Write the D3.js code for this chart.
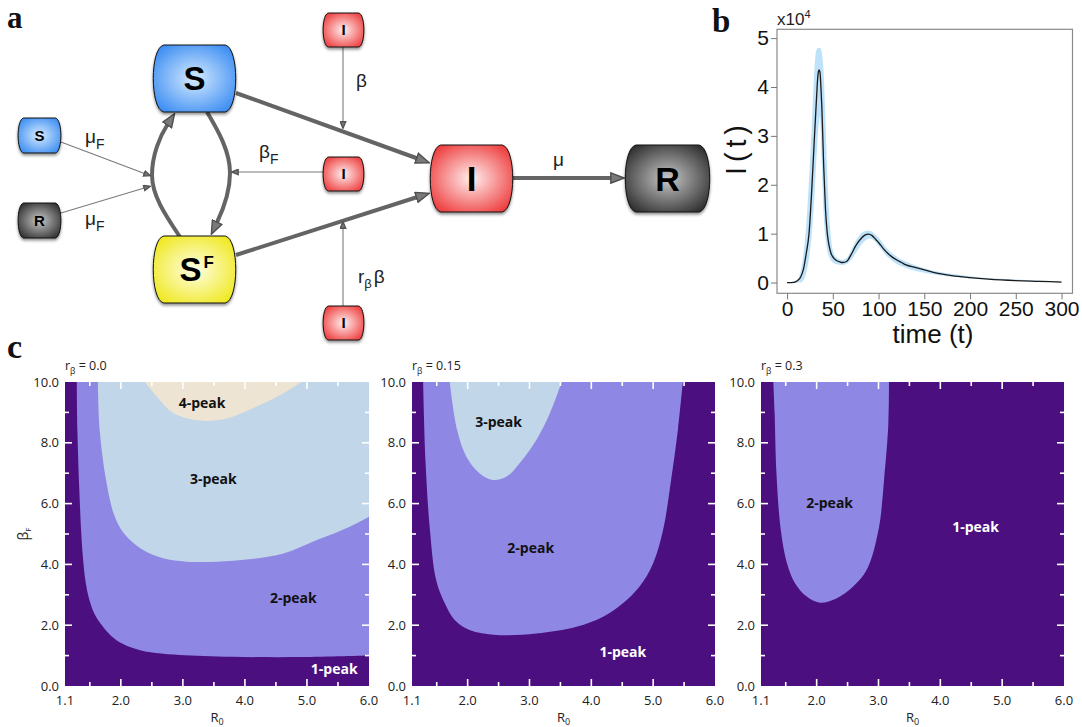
<!DOCTYPE html>
<html><head><meta charset="utf-8">
<script src="https://cdn.jsdelivr.net/npm/d3@7"></script>
<style>body{margin:0;background:#fff}svg{display:block}</style>
</head><body>
<svg id="fig" width="1082" height="727"></svg>
<script>
// ---------------- Panel b data (I(t) in units of 10^4) ----------------
const meanT = [0,5,10,12,15,18,21,24,27,30,32,33,34,35,36,37,38,40,42,44,46,48,51,54,58,61,65,70,75,80,85,89,93,97,100,105,110,115,120,125,130,140,150,160,170,180,200,220,250,275,300];
const meanI = [0,0,0.02,0.05,0.12,0.28,0.6,1.0,1.9,3.0,3.7,4.05,4.28,4.35,4.3,4.0,3.6,2.4,1.5,1.0,0.75,0.6,0.5,0.45,0.42,0.41,0.43,0.57,0.75,0.88,0.97,0.99,0.96,0.88,0.82,0.7,0.6,0.52,0.46,0.41,0.36,0.31,0.26,0.21,0.17,0.14,0.1,0.07,0.04,0.025,0.01];
const bandT     = [0,10,15,18,21,24,27,30,32,34,35,36,37,38,40,42,44,46,48,51,55,60,65,70,75,80,85,90,95,100,110,120,130,150,200,250,300];
const bandUpper = [0,0.04,0.25,0.6,1.2,2.1,3.2,4.4,4.75,4.8,4.8,4.8,4.78,4.7,4.3,3.3,2.2,1.4,0.9,0.6,0.5,0.46,0.5,0.66,0.85,0.99,1.05,1.06,1.01,0.92,0.68,0.53,0.43,0.29,0.13,0.06,0.02];
const bandLower = [0,0,0,0.05,0.2,0.5,1.0,1.8,2.5,3.1,3.3,3.4,3.0,2.4,1.4,0.9,0.65,0.52,0.45,0.4,0.37,0.36,0.38,0.46,0.6,0.74,0.85,0.9,0.86,0.75,0.52,0.38,0.3,0.2,0.09,0.04,0.005];
const bXTicks = [0,50,100,150,200,250,300];
const bYTicks = [0,1,2,3,4,5];

// ---------------- Panel c data: region boundaries [R0, betaF] ----------------
const rbLabels = ["0.0","0.15","0.3"];
const cXTicks = [1.1,2.0,3.0,4.0,5.0,6.0];
const cYTicks = [0,2,4,6,8,10];
// r_beta = 0.0
const p1_b12 = [[1.29,10],[1.30,8.4],[1.33,6.5],[1.36,5.1],[1.39,4.2],[1.43,3.45],[1.49,2.85],[1.58,2.35],[1.70,1.98],[1.85,1.64],[2.02,1.40],[2.31,1.18],[2.65,1.07],[2.95,1.02],[3.8,0.96],[4.9,0.95],[6.0,1.0]];
const p1_b23 = [[1.63,10],[1.66,8.4],[1.76,6.8],[1.88,5.7],[2.01,5.13],[2.15,4.8],[2.36,4.47],[2.68,4.2],[3.06,4.09],[3.81,4.12],[4.62,4.36],[5.16,4.8],[5.69,5.24],[6.0,5.57]];
const p1_b34 = [[2.39,10],[2.58,9.52],[2.85,8.97],[3.28,8.73],[3.71,8.8],[4.24,9.24],[4.62,9.63],[4.91,10]];
// r_beta = 0.15
const p2_b12 = [[1.28,10],[1.32,7.33],[1.39,5.13],[1.49,3.49],[1.63,2.72],[1.79,2.17],[2.03,1.84],[2.46,1.68],[3.11,1.73],[3.76,1.95],[4.19,2.28],[4.51,2.72],[4.78,3.27],[5.0,4.04],[5.16,5.13],[5.29,6.78],[5.40,8.42],[5.48,10]];
const p2_b23 = [[1.71,10],[1.83,8.42],[1.98,7.54],[2.19,7.0],[2.41,6.78],[2.63,6.89],[2.84,7.33],[3.11,8.09],[3.33,8.97],[3.52,10]];
// r_beta = 0.3
const p3_b12 = [[1.30,10],[1.32,9.0],[1.35,7.0],[1.42,5.13],[1.52,4.04],[1.65,3.38],[1.84,2.94],[2.05,2.74],[2.32,2.88],[2.59,3.27],[2.81,3.82],[3.0,5.13],[3.09,6.78],[3.16,8.64],[3.17,10]];
// region labels [text, R0, betaF]
const p1_labels = [["4-peak",3.31,9.32],["3-peak",3.49,6.81],["2-peak",4.78,2.9],["1-peak",5.44,0.56]];
const p2_labels = [["3-peak",2.50,8.69],["2-peak",3.02,4.54],["1-peak",4.51,1.13]];
const p3_labels = [["2-peak",2.21,6.03],["1-peak",4.57,5.24]];

const COL = {p1:"#4b0f80", p2:"#8f87e4", p3:"#c1d6e8", p4:"#ede4d3"};

const svg = d3.select("#fig");
svg.append("rect").attr("width",1082).attr("height",727).attr("fill","#fff");
const defs = svg.append("defs");
const SANS = "'Liberation Sans', Arial, sans-serif";
const OPEN = "'Open Sans', sans-serif";
const SERIF = "'Liberation Serif', 'DejaVu Serif', serif";

// panel letters
[["a",7,28,31],["b",712,32,33],["c",7,358,34]].forEach(([t,x,y,s])=>{
  svg.append("text").attr("x",x).attr("y",y).attr("font-family",SERIF).attr("font-weight","bold")
    .attr("font-size",s).attr("fill","#111").text(t);
});

// ================= Panel a: diagram =================
const sh = defs.append("filter").attr("id","shadow").attr("x","-20%").attr("y","-20%").attr("width","140%").attr("height","150%");
sh.append("feDropShadow").attr("dx",0).attr("dy",2).attr("stdDeviation",1.6).attr("flood-color","#000").attr("flood-opacity",0.45);
const grads = {blue:["#d6ebff","#3a8cf2"], red:["#fff0f0","#ee3a3a"], yellow:["#ffffe6","#efe81e"], gray:["#c8c8c8","#2e2e2e"]};
Object.entries(grads).forEach(([k,[c0,c1]])=>{
  const g = defs.append("radialGradient").attr("id","g_"+k).attr("cx","50%").attr("cy","50%").attr("r","62%");
  g.append("stop").attr("offset","0%").attr("stop-color",c0);
  g.append("stop").attr("offset","100%").attr("stop-color",c1);
});
function barrel(x0,y0,w,h){
  const x1=x0+w, y1=y0+h, r=w*0.13, k=h*0.04;
  return `M${x0+r},${y0} L${x1-r},${y0} C${x1+r*0.3},${y0+k} ${x1+r*0.3},${y1-k} ${x1-r},${y1} L${x0+r},${y1} C${x0-r*0.3},${y1-k} ${x0-r*0.3},${y0+k} ${x0+r},${y0} Z`;
}
const aG = svg.append("g");
// markers
function marker(id, len, wid, fill, stroke){
  const m = defs.append("marker").attr("id",id).attr("markerUnits","userSpaceOnUse")
    .attr("viewBox",`0 0 ${len} ${wid}`).attr("refX",1).attr("refY",wid/2)
    .attr("markerWidth",len).attr("markerHeight",wid).attr("orient","auto");
  m.append("path").attr("d",`M0.8,0.8 L${len-0.8},${wid/2} L0.8,${wid-0.8} Z`).attr("fill",fill).attr("stroke",stroke).attr("stroke-width",1.4).attr("stroke-linejoin","miter");
}
marker("mThick",15,12,"#7a7a7a","#4e4e4e");
marker("mThin",8,7,"#777","#555");
function arrowLine(x1,y1,x2,y2,thick){
  const len = thick?15:8;
  const dx=x2-x1, dy=y2-y1, L=Math.hypot(dx,dy);
  const bx=x2-dx/L*(len-1), by=y2-dy/L*(len-1);
  aG.append("line").attr("x1",x1).attr("y1",y1).attr("x2",bx).attr("y2",by)
    .attr("stroke",thick?"#646464":"#7a7a7a").attr("stroke-width",thick?4:1.1)
    .attr("marker-end",`url(#${thick?"mThick":"mThin"})`);
}
function arrowCurve(p0,c1,c2,mid,c3,c4,p3){
  const dx=p3[0]-c4[0], dy=p3[1]-c4[1], L=Math.hypot(dx,dy);
  const b=[p3[0]-dx/L*14, p3[1]-dy/L*14];
  aG.append("path").attr("d",`M${p0} C${c1} ${c2} ${mid} C${c3} ${c4} ${b}`).attr("fill","none")
    .attr("stroke","#646464").attr("stroke-width",4).attr("marker-end","url(#mThick)");
}
// thick arrows
arrowLine(236,93,430,163,true);
arrowLine(236,255,430,193,true);
arrowLine(513,178,625,178,true);
arrowCurve([180,237],[166,216],[152,196],[152,175],[152,155],[160,136],[175,113]);
arrowCurve([207,112],[219,132],[230,152],[230,173],[230,195],[221,214],[211,235]);
// thin arrows
arrowLine(343,47,343,129,false);
arrowLine(343,306,343,221,false);
arrowLine(323,172,231,172,false);
arrowLine(61,142,151,176,false);
arrowLine(61,213,151,186,false);

const nodes = [
  {x:153,y:45,w:83,h:67,c:"blue",t:"S",fs:33},
  {x:153,y:236,w:83,h:67,c:"yellow",t:"S",fs:33,sup:"F"},
  {x:18,y:118,w:43,h:35,c:"blue",t:"S",fs:15},
  {x:18,y:203,w:43,h:35,c:"gray",t:"R",fs:15},
  {x:323,y:13,w:41,h:34,c:"red",t:"I",fs:15},
  {x:323,y:157,w:41,h:34,c:"red",t:"I",fs:15},
  {x:323,y:306,w:41,h:34,c:"red",t:"I",fs:15},
  {x:430,y:145,w:83,h:67,c:"red",t:"I",fs:35},
  {x:625,y:145,w:85,h:67,c:"gray",t:"R",fs:34}
];
nodes.forEach(n=>{
  aG.append("path").attr("d",barrel(n.x,n.y,n.w,n.h)).attr("fill",`url(#g_${n.c})`)
    .attr("stroke","#111").attr("stroke-width",1).attr("filter","url(#shadow)");
  aG.append("text").attr("x",n.x+n.w/2 - (n.sup?4:0)).attr("y",n.y+n.h/2+n.fs*0.36)
    .attr("text-anchor","middle").attr("font-family",SANS).attr("font-weight","bold")
    .attr("font-size",n.fs).attr("fill","#000").text(n.t);
  if(n.sup){
    aG.append("text").attr("x",n.x+n.w/2+9).attr("y",n.y+n.h/2-2).attr("font-family",SANS)
      .attr("font-weight","bold").attr("font-size",17).attr("fill","#000").text(n.sup);
  }
});
// rate labels
function rate(x,y,main,sub){
  const t = aG.append("text").attr("x",x).attr("y",y).attr("font-family",SANS).attr("font-size",19).attr("fill","#222");
  t.append("tspan").text(main);
  if(sub){ t.append("tspan").attr("dy",6).attr("font-size",14).text(sub); }
}
rate(356,87,"β");
rate(259,158,"β","F");
rate(85,143,"μ","F");
rate(85,225,"μ","F");
rate(553,166,"μ");
(function(){
  const t = aG.append("text").attr("x",358).attr("y",283).attr("font-family",SANS).attr("font-size",19).attr("fill","#222");
  t.append("tspan").text("r");
  t.append("tspan").attr("dy",5).attr("font-size",13).text("β");
  t.append("tspan").attr("dy",-5).attr("dx",2).text("β");
})();

// ================= Panel b =================
const xb = d3.scaleLinear([-11,312],[777,1072.5]);
const yb = d3.scaleLinear([-0.22,5.18],[293.3,29.3]);
const bG = svg.append("g");
const band = bandT.map((t,i)=>({t, u:bandUpper[i], l:bandLower[i]}));
bG.append("path").datum(band)
  .attr("d", d3.area().x(d=>xb(d.t)).y0(d=>yb(d.l)).y1(d=>yb(d.u)).curve(d3.curveMonotoneX))
  .attr("fill","#b2ddf8").attr("opacity",0.85);
const mean = meanT.map((t,i)=>({t, v:meanI[i]}));
bG.append("path").datum(mean)
  .attr("d", d3.line().x(d=>xb(d.t)).y(d=>yb(d.v)).curve(d3.curveMonotoneX))
  .attr("fill","none").attr("stroke","#1a1a1a").attr("stroke-width",1.3);
bG.append("rect").attr("x",777).attr("y",29.3).attr("width",1072.5-777).attr("height",293.3-29.3)
  .attr("fill","none").attr("stroke","#8a8a8a").attr("stroke-width",1.2);
const axB = bG.append("g").attr("transform","translate(0,293.3)")
  .call(d3.axisBottom(xb).tickValues(bXTicks).tickSize(6).tickPadding(2).tickFormat(d3.format("d")));
const ayB = bG.append("g").attr("transform","translate(777,0)")
  .call(d3.axisLeft(yb).tickValues(bYTicks).tickSize(6).tickPadding(2).tickFormat(d3.format("d")));
[axB,ayB].forEach(a=>{
  a.select(".domain").remove();
  a.selectAll("line").attr("stroke","#777");
  a.selectAll("text").attr("font-family",SANS).attr("font-size",21).attr("fill","#111");
});
const xl = bG.append("text").attr("x",777).attr("y",25).attr("font-family",SANS).attr("font-size",17).attr("fill","#222");
xl.append("tspan").text("x10");
xl.append("tspan").attr("dy",-7).attr("font-size",11).text("4");
bG.append("text").attr("transform","translate(746,150) rotate(-90)").attr("text-anchor","middle")
  .attr("font-family",SANS).attr("font-size",29).attr("fill","#111")
  .attr("textLength",50).attr("lengthAdjust","spacing").text("I(t)");
bG.append("text").attr("x",933).attr("y",343).attr("text-anchor","middle")
  .attr("font-family",SANS).attr("font-size",26).attr("fill","#111").text("time (t)");

// ================= Panel c =================
function phase(idx, x0, x1, regions, labels){
  const g = svg.append("g");
  const x = d3.scaleLinear([1.1,6.0],[x0,x1]);
  const y = d3.scaleLinear([0,10],[686,382]);
  const cid = "clip"+idx;
  defs.append("clipPath").attr("id",cid).append("rect").attr("x",x0).attr("y",382).attr("width",x1-x0).attr("height",304);
  const pg = g.append("g").attr("clip-path",`url(#${cid})`);
  pg.append("rect").attr("x",x0).attr("y",382).attr("width",x1-x0).attr("height",304).attr("fill",COL.p1);
  const ln = d3.line().x(d=>x(d[0])).y(d=>y(d[1])).curve(d3.curveCatmullRom.alpha(0.5));
  regions.forEach(r=>{
    const extra = (r.close||[]).map(p=>`L${x(p[0])},${y(p[1])}`).join("");
    pg.append("path").attr("d", ln(r.pts) + extra + "Z").attr("fill",r.fill);
  });
  // white inward ticks
  const tk = g.append("g").attr("stroke","#fff").attr("stroke-width",1.6);
  d3.range(1.5,6,0.5).forEach(v=>{
    const major = Math.abs(v-Math.round(v))<1e-6, L = major?7:4;
    tk.append("line").attr("x1",x(v)).attr("x2",x(v)).attr("y1",686).attr("y2",686-L);
    tk.append("line").attr("x1",x(v)).attr("x2",x(v)).attr("y1",382).attr("y2",382+L);
  });
  d3.range(1,10,1).forEach(v=>{
    const major = v%2===0, L = major?7:4;
    tk.append("line").attr("y1",y(v)).attr("y2",y(v)).attr("x1",x0).attr("x2",x0+L);
    tk.append("line").attr("y1",y(v)).attr("y2",y(v)).attr("x1",x1).attr("x2",x1-L);
  });
  // tick labels
  cXTicks.forEach(v=>{
    g.append("text").attr("x",x(v)).attr("y",705).attr("text-anchor","middle").attr("font-family",OPEN)
      .attr("font-size",13).attr("fill","#222").text(v.toFixed(1));
  });
  cYTicks.forEach(v=>{
    g.append("text").attr("x",x0-6).attr("y",y(v)+4.6).attr("text-anchor","end").attr("font-family",OPEN)
      .attr("font-size",13).attr("fill","#222").text(v.toFixed(1));
  });
  // axis titles
  const rt = g.append("text").attr("x",(x0+x1)/2).attr("y",722).attr("text-anchor","middle").attr("font-family",OPEN).attr("font-size",13).attr("fill","#222");
  rt.append("tspan").text("R");
  rt.append("tspan").attr("dy",3).attr("font-size",9).text("0");
  const tt = g.append("text").attr("x",x0).attr("y",370).attr("font-family",OPEN).attr("font-size",12.5).attr("fill","#222");
  tt.append("tspan").text("r");
  tt.append("tspan").attr("dy",4).attr("font-size",8.5).text("β");
  tt.append("tspan").attr("dy",-4).text(" = " + rbLabels[idx]);
  // region labels
  labels.forEach(([txt,r0,bf])=>{
    g.append("text").attr("x",x(r0)).attr("y",y(bf)+5).attr("text-anchor","middle").attr("font-family",OPEN)
      .attr("font-weight","bold").attr("font-size",14).attr("fill",txt==="1-peak"?"#fff":"#111").text(txt);
  });
}
phase(0,65,369,[
  {pts:p1_b12, fill:COL.p2, close:[[6.0,10]]},
  {pts:p1_b23, fill:COL.p3, close:[[6.0,10]]},
  {pts:p1_b34, fill:COL.p4}
], p1_labels);
phase(1,412,715,[
  {pts:p2_b12, fill:COL.p2},
  {pts:p2_b23, fill:COL.p3}
], p2_labels);
phase(2,761,1064,[
  {pts:p3_b12, fill:COL.p2}
], p3_labels);
// beta_F axis title
(function(){
  const t = svg.append("text").attr("transform","translate(28,534) rotate(-90)").attr("text-anchor","middle")
    .attr("font-family",OPEN).attr("font-size",14).attr("fill","#222");
  t.append("tspan").text("β");
  t.append("tspan").attr("dy",3).attr("font-size",8).text("F");
})();
</script>
</body></html>
